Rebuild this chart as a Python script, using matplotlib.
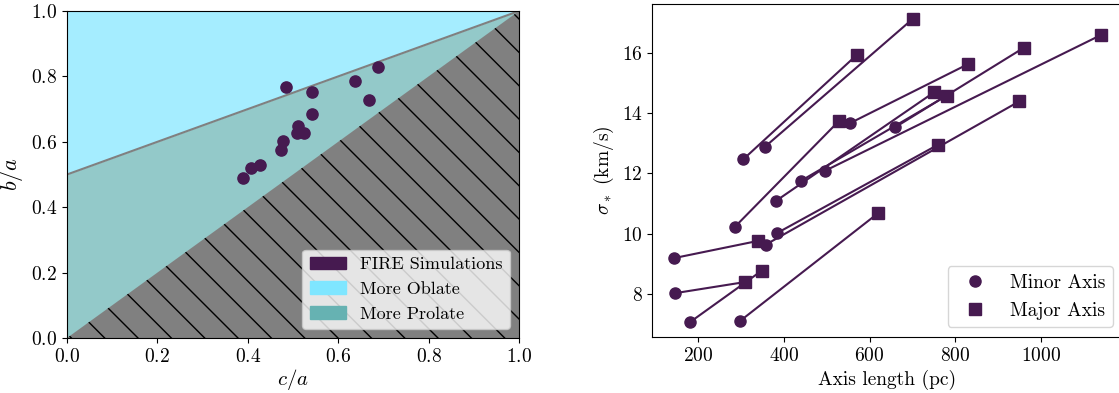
import numpy as np
import matplotlib
matplotlib.use('Agg')
import matplotlib.pyplot as plt
from matplotlib.patches import Patch
from matplotlib.lines import Line2D

plt.rcParams['font.family'] = 'serif'
plt.rcParams['font.serif'] = ['cmr10']
plt.rcParams['mathtext.fontset'] = 'cm'
plt.rcParams['axes.unicode_minus'] = False
plt.rcParams['axes.formatter.use_mathtext'] = True
plt.rcParams['hatch.color'] = 'black'

#--------------------data--------------------------
c_over_a = [0.485, 0.541, 0.638, 0.687, 0.669, 0.541, 0.511, 0.508, 0.525,
            0.478, 0.473, 0.426, 0.407, 0.389]
b_over_a = [0.768, 0.751, 0.786, 0.828, 0.727, 0.685, 0.648, 0.626, 0.627,
            0.601, 0.574, 0.530, 0.521, 0.488]

minor_len = [305, 356, 286, 554, 381, 441, 497, 659, 384, 358, 143, 146, 182, 298]
minor_sig = [12.46, 12.88, 10.23, 13.66, 11.08, 11.76, 12.09, 13.52, 10.02, 9.64,
             9.19, 8.03, 7.08, 7.11]
major_len = [570, 701, 529, 830, 750, 781, 1141, 961, 760, 950, 339, 310, 349, 620]
major_sig = [15.92, 17.12, 13.74, 15.62, 14.68, 14.58, 16.59, 16.17, 12.95, 14.39,
             9.76, 8.40, 8.78, 10.68]

dark = '#461a50'
oblate_col = '#7fe6ff'
prolate_col = '#66b2b2'
fs = 14

#--------------------figure--------------------------
fig = plt.figure(figsize=(11.19, 3.93), dpi=100)
ax0 = fig.add_axes([67/1119, (393-338)/393, 452/1119, 327/393])
ax1 = fig.add_axes([652.3/1119, (393-337)/393, 470.4/1119, 333.3/393])

# left: shape regions
xx = np.linspace(0, 1, 50)
ax0.fill_between(xx, 0.5 + 0.5*xx, 1, color=oblate_col, alpha=0.7, lw=0)
ax0.fill_between(xx, xx, 0.5 + 0.5*xx, color=prolate_col, alpha=0.7, lw=0)
ax0.fill_between(xx, 0, xx, facecolor='gray', edgecolor='black', hatch='\\', lw=0)
ax0.plot(xx, 0.5 + 0.5*xx, color='gray', lw=1.5)
ax0.scatter(c_over_a, b_over_a, s=65, color=dark, zorder=3)
ax0.set_xlim(0, 1)
ax0.set_ylim(0, 1)
ax0.set_xlabel('$c/a$', fontsize=fs+1, labelpad=1)
ax0.set_ylabel('$b/a$', fontsize=fs+2)
ax0.tick_params(labelsize=fs)
handles = [Patch(color=dark, label='FIRE Simulations'),
           Patch(color=oblate_col, label='More Oblate'),
           Patch(color=prolate_col, label='More Prolate')]
ax0.legend(handles=handles, loc='lower right', fontsize=fs-1)

# right: sigma vs axis length
for i in range(len(minor_len)):
    ax1.plot([minor_len[i], major_len[i]], [minor_sig[i], major_sig[i]], color=dark, lw=1.5, zorder=1)
ax1.plot(minor_len, minor_sig, 'o', ls='none', color=dark, ms=8, zorder=2)
ax1.plot(major_len, major_sig, 's', ls='none', color=dark, ms=8, zorder=2)
ax1.set_xlabel('Axis length (pc)', fontsize=fs)
ax1.set_ylabel(r'$\sigma_*$ (km/s)', fontsize=fs)
ax1.tick_params(labelsize=fs)
ax1.set_xticks([200, 400, 600, 800, 1000])
ax1.set_yticks([8, 10, 12, 14, 16])
leg_h = [Line2D([], [], marker='o', ls='none', color=dark, ms=8, label='Minor Axis'),
         Line2D([], [], marker='s', ls='none', color=dark, ms=8, label='Major Axis')]
ax1.legend(handles=leg_h, loc='lower right', fontsize=fs)

fig.savefig('out.png', dpi=100)
